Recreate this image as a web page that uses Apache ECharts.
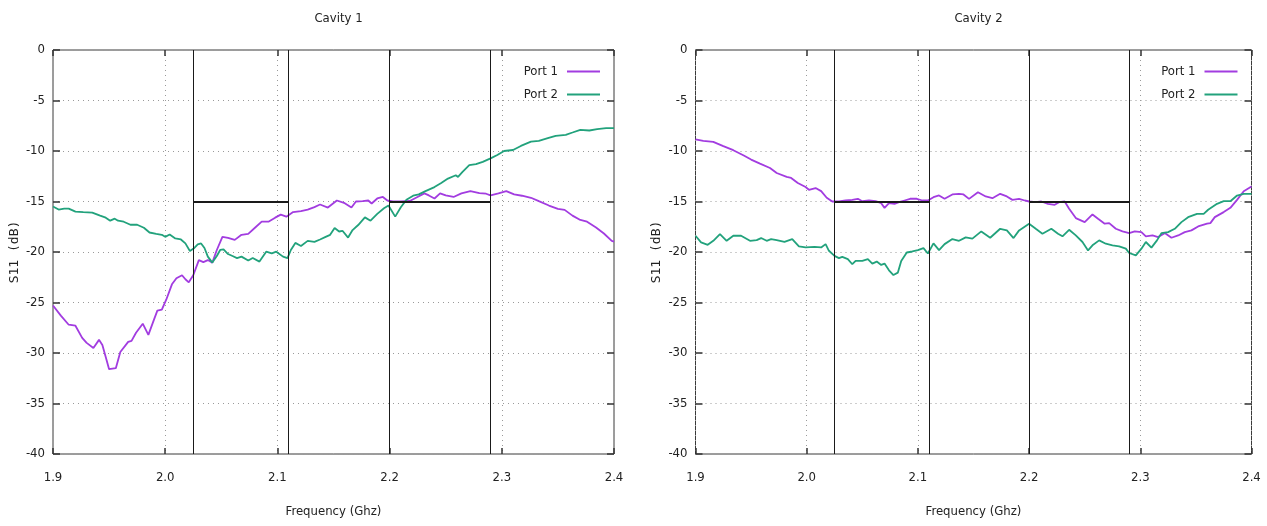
<!DOCTYPE html>
<html>
<head>
<meta charset="utf-8">
<script src="https://cdn.jsdelivr.net/npm/echarts@6/dist/echarts.min.js"></script>
<style>
  html, body { margin: 0; padding: 0; background: #fff; }
  #chart { width: 1267px; height: 526px; }
</style>
</head>
<body>
<div id="chart"></div>
<script>
// Measured S11 (dB) versus frequency (GHz), [frequency, value] pairs.
const cavity1Port1 = [
  [1.900,-25.3],[1.907,-26.3],[1.914,-27.2],[1.920,-27.3],[1.926,-28.5],[1.930,-29.0],[1.936,-29.5],
  [1.941,-28.7],[1.944,-29.2],[1.947,-30.4],[1.950,-31.6],[1.956,-31.5],[1.960,-29.9],[1.967,-28.9],
  [1.970,-28.8],[1.974,-28.0],[1.980,-27.1],[1.985,-28.2],[1.990,-26.7],[1.993,-25.8],[1.997,-25.7],
  [2.001,-24.7],[2.006,-23.2],[2.010,-22.6],[2.015,-22.3],[2.018,-22.7],[2.021,-23.0],[2.025,-22.3],
  [2.030,-20.8],[2.034,-21.0],[2.038,-20.8],[2.042,-21.05],[2.046,-19.8],[2.051,-18.5],[2.056,-18.6],
  [2.062,-18.8],[2.068,-18.3],[2.074,-18.2],[2.080,-17.6],[2.086,-17.0],[2.092,-17.0],[2.098,-16.6],
  [2.103,-16.3],[2.108,-16.5],[2.114,-16.05],[2.121,-15.95],[2.127,-15.8],[2.133,-15.55],[2.138,-15.3],
  [2.145,-15.6],[2.153,-14.9],[2.160,-15.17],[2.166,-15.6],[2.170,-15.0],[2.176,-14.97],[2.181,-14.9],
  [2.184,-15.2],[2.189,-14.7],[2.194,-14.55],[2.198,-14.9],[2.203,-15.0],[2.210,-15.0],[2.218,-14.95],
  [2.224,-14.6],[2.231,-14.2],[2.235,-14.4],[2.240,-14.7],[2.245,-14.2],[2.250,-14.4],[2.257,-14.55],
  [2.264,-14.2],[2.272,-13.97],[2.280,-14.17],[2.286,-14.23],[2.290,-14.4],[2.297,-14.2],[2.304,-13.97],
  [2.311,-14.3],[2.318,-14.43],[2.326,-14.63],[2.333,-14.97],[2.342,-15.4],[2.350,-15.73],[2.356,-15.83],
  [2.363,-16.4],[2.370,-16.83],[2.376,-17.0],[2.384,-17.57],[2.391,-18.17],[2.398,-18.9],[2.400,-18.97]
];
const cavity1Port2 = [
  [1.900,-15.5],[1.905,-15.8],[1.910,-15.7],[1.914,-15.7],[1.920,-16.0],[1.927,-16.05],[1.935,-16.1],
  [1.942,-16.4],[1.947,-16.6],[1.951,-16.9],[1.955,-16.7],[1.958,-16.9],[1.963,-17.0],[1.969,-17.3],
  [1.975,-17.3],[1.981,-17.6],[1.986,-18.07],[1.992,-18.2],[1.997,-18.3],[2.000,-18.5],[2.004,-18.27],
  [2.009,-18.66],[2.014,-18.76],[2.018,-19.15],[2.022,-19.9],[2.026,-19.6],[2.029,-19.25],[2.032,-19.15],
  [2.035,-19.6],[2.038,-20.46],[2.042,-21.05],[2.046,-20.4],[2.049,-19.8],[2.052,-19.74],[2.056,-20.2],
  [2.060,-20.4],[2.064,-20.6],[2.068,-20.46],[2.074,-20.85],[2.078,-20.6],[2.084,-20.95],[2.090,-19.97],
  [2.095,-20.13],[2.099,-19.97],[2.105,-20.46],[2.109,-20.6],[2.112,-19.8],[2.116,-19.1],[2.121,-19.4],
  [2.127,-18.9],[2.133,-19.0],[2.138,-18.76],[2.143,-18.5],[2.147,-18.3],[2.151,-17.63],[2.155,-17.97],
  [2.158,-17.9],[2.163,-18.57],[2.167,-17.83],[2.172,-17.33],[2.178,-16.57],[2.183,-16.9],[2.189,-16.23],
  [2.195,-15.67],[2.199,-15.4],[2.205,-16.5],[2.210,-15.57],[2.215,-14.83],[2.221,-14.43],[2.226,-14.3],
  [2.232,-13.97],[2.240,-13.57],[2.246,-13.17],[2.252,-12.73],[2.259,-12.4],[2.261,-12.57],[2.265,-12.07],
  [2.271,-11.4],[2.277,-11.3],[2.283,-11.07],[2.290,-10.73],[2.296,-10.4],[2.302,-10.0],[2.310,-9.9],
  [2.317,-9.5],[2.326,-9.07],[2.333,-9.0],[2.341,-8.73],[2.348,-8.5],[2.357,-8.4],[2.363,-8.17],
  [2.370,-7.9],[2.378,-7.97],[2.385,-7.83],[2.393,-7.73],[2.400,-7.73]
];
const cavity2Port1 = [
  [1.900,-8.85],[1.907,-8.99],[1.916,-9.09],[1.925,-9.52],[1.934,-9.92],[1.943,-10.42],[1.950,-10.85],
  [1.958,-11.25],[1.967,-11.68],[1.973,-12.18],[1.982,-12.57],[1.986,-12.67],[1.992,-13.17],[1.999,-13.57],
  [2.002,-13.84],[2.008,-13.67],[2.013,-13.97],[2.018,-14.63],[2.023,-15.0],[2.029,-15.0],[2.035,-14.9],
  [2.041,-14.83],[2.046,-14.73],[2.050,-14.97],[2.056,-14.9],[2.062,-14.97],[2.067,-15.17],[2.070,-15.63],
  [2.074,-15.17],[2.079,-15.23],[2.083,-15.07],[2.088,-14.9],[2.093,-14.73],[2.099,-14.73],[2.104,-14.9],
  [2.109,-14.9],[2.114,-14.57],[2.119,-14.4],[2.124,-14.73],[2.131,-14.3],[2.137,-14.24],[2.141,-14.3],
  [2.146,-14.74],[2.154,-14.08],[2.161,-14.5],[2.167,-14.67],[2.174,-14.24],[2.180,-14.5],[2.185,-14.84],
  [2.191,-14.74],[2.196,-14.9],[2.200,-15.0],[2.206,-15.07],[2.211,-15.0],[2.217,-15.23],[2.223,-15.33],
  [2.227,-15.07],[2.232,-15.0],[2.236,-15.72],[2.242,-16.64],[2.250,-17.04],[2.257,-16.28],[2.262,-16.7],
  [2.268,-17.2],[2.272,-17.14],[2.278,-17.7],[2.284,-17.96],[2.290,-18.13],[2.295,-17.96],[2.301,-18.03],
  [2.305,-18.45],[2.311,-18.36],[2.316,-18.52],[2.322,-18.13],[2.328,-18.59],[2.334,-18.36],[2.340,-18.03],
  [2.346,-17.86],[2.352,-17.47],[2.360,-17.2],[2.363,-17.14],[2.367,-16.55],[2.375,-16.05],[2.381,-15.63],
  [2.387,-14.84],[2.393,-13.98],[2.400,-13.52]
];
const cavity2Port2 = [
  [1.900,-18.39],[1.905,-19.05],[1.911,-19.29],[1.916,-18.89],[1.922,-18.22],[1.928,-18.89],[1.934,-18.39],
  [1.941,-18.39],[1.949,-18.89],[1.955,-18.82],[1.959,-18.62],[1.964,-18.89],[1.968,-18.72],[1.973,-18.82],
  [1.980,-18.99],[1.987,-18.72],[1.993,-19.45],[1.999,-19.55],[2.007,-19.49],[2.013,-19.55],[2.017,-19.22],
  [2.020,-19.88],[2.025,-20.38],[2.029,-20.61],[2.032,-20.48],[2.037,-20.71],[2.041,-21.21],[2.044,-20.88],
  [2.050,-20.88],[2.055,-20.71],[2.059,-21.15],[2.063,-20.95],[2.067,-21.28],[2.070,-21.15],[2.074,-21.81],
  [2.078,-22.28],[2.082,-22.04],[2.085,-20.88],[2.090,-20.05],[2.095,-19.95],[2.100,-19.82],[2.105,-19.62],
  [2.109,-20.15],[2.114,-19.15],[2.119,-19.82],[2.124,-19.22],[2.131,-18.72],[2.137,-18.89],[2.143,-18.55],
  [2.149,-18.68],[2.157,-17.96],[2.165,-18.59],[2.174,-17.7],[2.180,-17.86],[2.186,-18.62],[2.191,-17.86],
  [2.200,-17.2],[2.206,-17.7],[2.212,-18.19],[2.220,-17.7],[2.226,-18.19],[2.230,-18.45],[2.236,-17.8],
  [2.242,-18.36],[2.248,-19.01],[2.253,-19.84],[2.257,-19.34],[2.263,-18.85],[2.269,-19.18],[2.275,-19.34],
  [2.281,-19.44],[2.287,-19.67],[2.290,-20.1],[2.296,-20.33],[2.301,-19.67],[2.305,-19.01],[2.310,-19.57],
  [2.315,-18.85],[2.319,-18.13],[2.325,-18.03],[2.331,-17.7],[2.337,-17.04],[2.343,-16.55],[2.351,-16.22],
  [2.357,-16.22],[2.361,-15.82],[2.369,-15.23],[2.375,-14.97],[2.381,-14.97],[2.387,-14.41],[2.393,-14.24],
  [2.400,-14.24]
];

// Specification mask: band edges and the -15 dB limit over each passband.
const bandEdges = [2.025, 2.11, 2.2, 2.29];
const passbands = [[2.025, 2.11], [2.2, 2.29]];
const limitLevel = -15;

const chartTitles = ['Cavity 1', 'Cavity 2'];
const seriesNames = ['Port 1', 'Port 2'];
const xAxisName = 'Frequency (Ghz)';
const yAxisName = 'S11 (dB)';

const X_MIN = 1.9, X_MAX = 2.4, Y_MIN = -40, Y_MAX = 0;

const PURPLE = '#a23ce0';
const GREEN = '#22a27c';
const TEXT_FONT = '"DejaVu Sans Condensed", "Liberation Sans Narrow", "Liberation Sans", sans-serif';

const panels = [
  { left: 53, width: 561, data: [cavity1Port1, cavity1Port2] },
  { left: 695.5, width: 556, data: [cavity2Port1, cavity2Port2] }
];
const TOP = 50, HEIGHT = 404, W = 1267;

const grids = [], xAxes = [], yAxes = [], series = [], titles = [], legends = [];
const dotted = { color: '#9a9a9a', type: [1, 4], width: 1 };

panels.forEach((p, i) => {
  grids.push({
    left: p.left, top: TOP, width: p.width, height: HEIGHT,
    show: true, borderColor: '#3a3a3a', borderWidth: 1, backgroundColor: 'transparent'
  });
  const xBase = { gridIndex: i, type: 'value', min: X_MIN, max: X_MAX, interval: 0.1 };
  const yBase = { gridIndex: i, type: 'value', min: Y_MIN, max: Y_MAX, interval: 5 };
  const xTick = { show: true, inside: true, length: 6, lineStyle: { color: '#333', width: 1.5 } };
  const yTick = { show: true, inside: true, length: 7, lineStyle: { color: '#333', width: 1.5 } };
  // bottom / left axes carry labels and the dotted grid
  xAxes.push(Object.assign({}, xBase, {
    position: 'bottom',
    axisLine: { show: false, onZero: false },
    axisTick: xTick,
    axisLabel: { margin: 17, color: '#222', fontFamily: TEXT_FONT, fontSize: 13,
                 formatter: v => v.toFixed(1) },
    splitLine: { show: true, lineStyle: dotted },
    name: xAxisName, nameLocation: 'middle', nameGap: 51,
    nameTextStyle: { color: '#222', fontFamily: TEXT_FONT, fontSize: 13 }
  }));
  yAxes.push(Object.assign({}, yBase, {
    position: 'left',
    axisLine: { show: false, onZero: false },
    axisTick: yTick,
    axisLabel: { margin: 8, color: '#222', fontFamily: TEXT_FONT, fontSize: 13 },
    splitLine: { show: true, lineStyle: dotted },
    name: yAxisName, nameLocation: 'middle', nameGap: 32, nameRotate: 90,
    nameTextStyle: { color: '#222', fontFamily: '"DejaVu Sans Mono", monospace', fontSize: 13 }
  }));
  // mirrored tick marks on the top and right edges
  xAxes.push(Object.assign({}, xBase, {
    position: 'top',
    axisLine: { show: false, onZero: false },
    axisTick: xTick, axisLabel: { show: false }, splitLine: { show: false }
  }));
  yAxes.push(Object.assign({}, yBase, {
    position: 'right',
    axisLine: { show: false, onZero: false },
    axisTick: yTick, axisLabel: { show: false }, splitLine: { show: false }
  }));

  const xi = i * 2, yi = i * 2;
  p.data.forEach((d, k) => {
    series.push({
      name: seriesNames[k], type: 'line', xAxisIndex: xi, yAxisIndex: yi,
      data: d, showSymbol: false, symbol: 'none', smooth: false,
      lineStyle: { color: k === 0 ? PURPLE : GREEN, width: 1.8 },
      itemStyle: { color: k === 0 ? PURPLE : GREEN },
      z: 3
    });
  });

  const markData = bandEdges.map(e => [{ coord: [e, Y_MAX] }, { coord: [e, Y_MIN] }]);
  passbands.forEach(b => {
    markData.push([{ coord: [b[0], limitLevel], lineStyle: { width: 1.8 } },
                   { coord: [b[1], limitLevel] }]);
  });
  series.push({
    name: 'mask', type: 'line', xAxisIndex: xi, yAxisIndex: yi, data: [],
    markLine: {
      silent: true, symbol: ['none', 'none'], label: { show: false },
      lineStyle: { color: '#1a1a1a', type: 'solid', width: 1 },
      data: markData, animation: false
    },
    z: 2
  });

  titles.push({
    text: chartTitles[i], left: p.left + p.width / 2, top: 7, textAlign: 'center',
    textStyle: { color: '#222', fontFamily: TEXT_FONT, fontSize: 13, fontWeight: 'normal' }
  });
  legends.push({
    data: seriesNames, orient: 'vertical', align: 'right',
    right: W - (p.left + p.width) + 14, top: 65, padding: 0,
    itemWidth: 33, itemHeight: 2, itemGap: 10, icon: 'rect',
    textStyle: { color: '#222', fontFamily: TEXT_FONT, fontSize: 13, padding: [0, 4, 0, 0] },
    selectedMode: false
  });
});

const chart = echarts.init(document.getElementById('chart'), null, { renderer: 'canvas' });
chart.setOption({
  animation: false,
  backgroundColor: '#ffffff',
  title: titles,
  legend: legends,
  grid: grids,
  xAxis: xAxes,
  yAxis: yAxes,
  series: series
});
</script>
</body>
</html>
